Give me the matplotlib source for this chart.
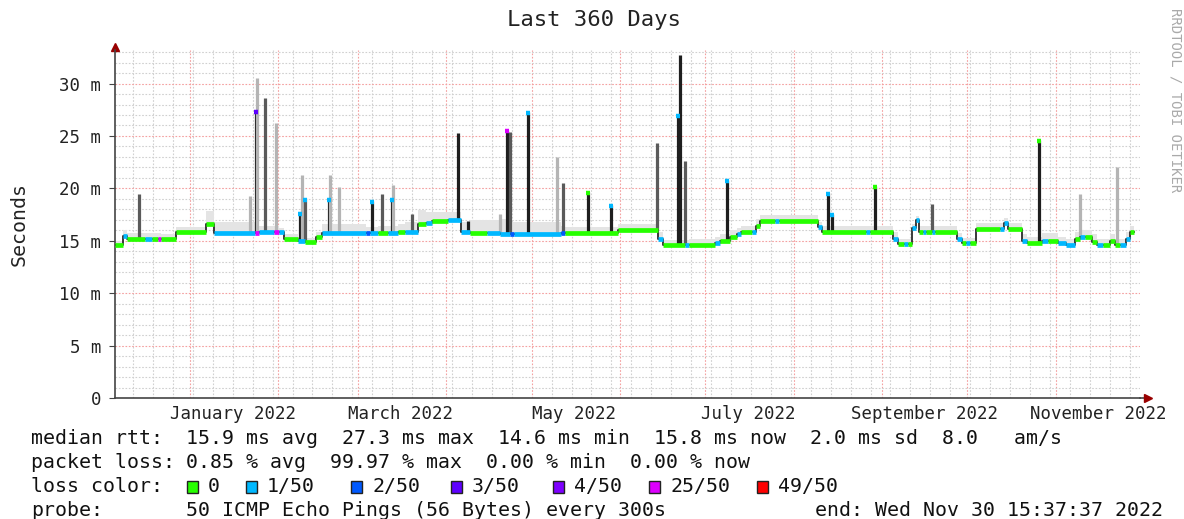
import datetime as dt
import numpy as np
import matplotlib
matplotlib.use('Agg')
import matplotlib.pyplot as plt
import matplotlib.dates as mdates
from matplotlib.patches import Rectangle

end_time = dt.datetime(2022, 11, 30, 15, 37, 37)
start_time = end_time - dt.timedelta(days=360)

# median rtt as steps: day offset from start, rtt in ms, loss colour index, top of smoke in ms
med_day = [0.0, 2.8, 4.2, 10.5, 13.0, 15.1, 16.2, 21.4, 32.0, 34.8, 49.2, 50.6, 55.8, 57.6,
           59.4, 64.3, 66.7, 70.6, 72.7, 88.2, 89.6, 92.4, 95.9, 99.4, 101.9, 106.4, 109.2,
           111.3, 117.0, 121.5, 124.7, 130.7, 135.2, 138.7, 140.1, 156.7, 158.1, 176.7,
           190.7, 192.5, 200.2, 201.6, 210.7, 212.5, 216.0, 218.5, 219.9, 223.7, 225.2,
           226.6, 231.8, 233.2, 246.9, 248.3, 263.8, 265.2, 273.3, 275.0, 277.1, 278.5,
           279.9, 281.3, 282.4, 283.8, 284.9, 287.0, 288.0, 295.7, 297.5, 298.9, 300.3,
           302.4, 310.9, 312.3, 313.7, 318.6, 320.3, 325.6, 327.7, 331.2, 334.0, 337.2,
           338.9, 340.7, 343.2, 344.9, 347.0, 349.5, 351.3, 353.0, 355.1, 356.5, 357.9]
med_ms = [14.6, 15.5, 15.2, 15.2, 15.2, 15.2, 15.2, 15.8, 16.6, 15.7, 15.7, 15.8, 15.8, 15.8,
          15.2, 15.0, 14.9, 15.4, 15.7, 15.7, 15.7, 15.7, 15.7, 15.8, 15.8, 16.6, 16.7,
          16.9, 17.0, 15.8, 15.7, 15.7, 15.6, 15.6, 15.6, 15.7, 15.7, 16.0,
          15.2, 14.6, 14.6, 14.6, 14.8, 15.0, 15.4, 15.6, 15.8, 15.8, 16.4,
          16.9, 16.9, 16.9, 16.3, 15.8, 15.8, 15.8, 15.2, 14.7, 14.7, 14.7,
          16.2, 17.0, 15.8, 15.8, 15.8, 15.8, 15.8, 15.2, 14.8, 14.8, 14.8,
          16.1, 16.1, 16.7, 16.1, 15.0, 14.8, 15.0, 15.0, 14.8, 14.6, 15.2,
          15.4, 15.4, 14.9, 14.6, 14.6, 15.0, 14.6, 14.6, 15.2, 15.8, 15.8]
med_loss = [0, 1, 0, 1, 0, 5, 0, 0, 0, 1, 5, 1, 5, 1,
            0, 1, 0, 0, 1, 2, 1, 0, 1, 0, 1, 0, 1,
            0, 1, 1, 0, 1, 1, 2, 1, 2, 0, 0,
            1, 0, 1, 0, 1, 0, 0, 1, 0, 1, 0,
            0, 1, 0, 1, 0, 1, 0, 1, 0, 1, 0,
            1, 1, 0, 1, 0, 1, 0, 1, 0, 1, 0,
            0, 1, 1, 0, 1, 0, 1, 0, 1, 1, 0,
            1, 0, 0, 1, 0, 0, 0, 1, 1, 0, 0]
smoke_ms = [15.0, 16.0, 15.7, 15.7, 15.7, 15.7, 15.6, 16.3, 17.8, 16.8, 16.6, 16.4, 16.4, 16.2,
            15.6, 15.4, 15.3, 15.8, 16.6, 16.3, 16.3, 16.4, 16.4, 16.6, 16.8, 17.9, 17.7,
            17.7, 17.7, 16.8, 17.0, 17.0, 17.1, 16.8, 16.8, 16.4, 16.3, 16.6,
            15.8, 15.1, 15.1, 15.2, 15.4, 15.6, 16.0, 16.2, 16.4, 16.4, 17.1,
            17.5, 17.5, 17.5, 16.8, 16.4, 16.4, 16.4, 15.8, 15.2, 15.2, 15.2,
            16.6, 17.4, 16.4, 16.4, 16.4, 16.4, 16.4, 15.7, 15.3, 15.3, 15.3,
            16.7, 16.7, 17.2, 16.7, 15.6, 15.4, 15.7, 15.7, 15.4, 15.2, 15.8,
            16.0, 16.0, 15.6, 15.2, 15.2, 15.6, 15.2, 15.2, 15.8, 16.4, 16.4]

# smoke spikes: day offset, top in ms, shade (0 dark, 1 mid, 2 light)
spike_day = [8.4, 47.4, 49.5, 49.9, 52.7, 56.6, 65.0, 65.7, 66.7, 75.2, 75.5, 78.7, 90.3,
             93.8, 97.3, 97.6, 104.3, 120.5, 124.0, 135.2, 137.7, 138.7, 145.1, 155.3,
             157.4, 166.1, 174.2, 190.4, 197.8, 198.5, 200.2, 215.0, 250.4, 251.8, 266.9,
             287.0, 324.5, 338.9, 352.0]
spike_top = [19.5, 19.3, 27.5, 30.5, 28.6, 26.2, 17.7, 21.3, 19.1, 19.0, 21.3, 20.1, 18.8,
             19.5, 19.0, 20.3, 17.6, 25.3, 16.9, 17.6, 25.6, 25.4, 27.3, 23.0,
             20.5, 19.7, 18.4, 24.3, 26.9, 32.7, 22.6, 20.8, 19.6, 17.6, 20.2,
             18.5, 24.6, 19.5, 22.0]
spike_shade = [1, 2, 0, 2, 1, 2, 0, 2, 1, 0, 2, 2, 0,
               1, 0, 2, 1, 0, 0, 2, 0, 1, 0, 2,
               1, 0, 0, 1, 0, 0, 1, 0, 0, 0, 0,
               1, 0, 2, 2]

# high median values at the spikes: day offset, ms, loss colour index
tip_day = [49.5, 65.0, 66.7, 75.2, 90.3, 97.3, 137.7, 145.1, 166.1, 174.2, 197.8, 215.0,
           250.4, 251.8, 266.9, 324.5]
tip_ms = [27.3, 17.6, 18.9, 18.9, 18.7, 18.9, 25.5, 27.2, 19.6, 18.3, 26.9, 20.7,
          19.5, 17.5, 20.1, 24.5]
tip_loss = [3, 1, 1, 1, 1, 1, 5, 1, 0, 1, 1, 1, 1, 1, 0, 0]

loss_labels = ['0', '1/50', '2/50', '3/50', '4/50', '25/50', '49/50']
loss_colors = ['#26ff00', '#00b8ff', '#0059ff', '#5e00ff', '#7e00ff', '#dd00ff', '#ff0000']
shade_colors = ['#1e1e1e', '#5a5a5a', '#b4b4b4']

W, H = 1184, 519
mono = 'DejaVu Sans Mono'
plt.rcParams['font.family'] = mono


def to_num(days):
    return mdates.date2num([start_time + dt.timedelta(days=float(d)) for d in days])


fig = plt.figure(figsize=(W / 100, H / 100), dpi=100)
ax = fig.add_axes([115 / W, 121 / H, 1025 / W, 348 / H])

t = to_num(med_day)
ax.fill_between(t, med_ms, smoke_ms, step='post', color='#e4e4e4', lw=0, zorder=2)

# spikes start from the median at that time
idx = np.searchsorted(med_day, spike_day, side='right') - 1
base = np.array(med_ms)[idx]
ax.vlines(to_num(spike_day), base, spike_top,
          colors=[shade_colors[s] for s in spike_shade], lw=2.3, zorder=3)

ax.step(t, med_ms, where='post', color='#2a2a2a', lw=1.3, zorder=4)
ax.hlines(med_ms[:-1], t[:-1], t[1:], colors=[loss_colors[c] for c in med_loss[:-1]],
          lw=3.4, zorder=5)

tt = to_num(tip_day)
ax.hlines(tip_ms, tt - 0.6, tt + 0.6, colors=[loss_colors[c] for c in tip_loss], lw=3.2, zorder=6)

ax.set_xlim(mdates.date2num(start_time), mdates.date2num(end_time))
ax.set_ylim(0, 33.2)

# grid: weekly / monthly verticals, 1 ms / 5 ms horizontals
red_grid = dict(color='#f4a0a0', lw=0.8, ls=(0, (1.5, 1.5)), zorder=1)
grey_grid = dict(color='#d0d0d0', lw=0.8, ls=(0, (1.5, 1.5)), zorder=1)
d = start_time.date() + dt.timedelta(days=1)
while d < end_time.date():
    x = mdates.date2num(dt.datetime(d.year, d.month, d.day))
    if d.day == 1:
        ax.axvline(x, **red_grid)
    elif d.weekday() == 6:
        ax.axvline(x, **grey_grid)
    d += dt.timedelta(days=1)
for y in range(1, 34):
    ax.axhline(y, **(red_grid if y % 5 == 0 else grey_grid))

yticks = [0, 5, 10, 15, 20, 25, 30]
ax.set_yticks(yticks)
ax.set_yticklabels(['0'] + ['%d m' % v for v in yticks[1:]], fontsize=12.5, color='#222222')

label_months = [(2022, 1), (2022, 3), (2022, 5), (2022, 7), (2022, 9), (2022, 11)]
ax.set_xticks(mdates.date2num([dt.datetime(y, m, 16) for y, m in label_months]))
ax.set_xticklabels([dt.date(y, m, 1).strftime('%B %Y') for y, m in label_months],
                   fontsize=12.5, color='#222222')
ax.tick_params(axis='x', length=0, pad=5)
ax.tick_params(axis='y', length=4, color='#444444', pad=6)

for s in ['top', 'right']:
    ax.spines[s].set_visible(False)
for s in ['left', 'bottom']:
    ax.spines[s].set_color('#444444')
    ax.spines[s].set_linewidth(1.2)
ax.plot([1, 1.007], [0, 0], transform=ax.transAxes, color='#444444', lw=1.2, clip_on=False)
ax.plot([1.008], [0], transform=ax.transAxes, marker='>', color='#990000', ms=6, clip_on=False)
ax.plot([0], [1.01], transform=ax.transAxes, marker='^', color='#990000', ms=6, clip_on=False)

ax.set_ylabel('Seconds', fontsize=14.3, color='#222222', labelpad=22)
fig.text(594 / W, 1 - 20 / H, 'Last 360 Days', ha='center', va='center', fontsize=16, color='#222222')
fig.text(1175 / W, 1 - 8 / H, 'RRDTOOL / TOBI OETIKER', rotation=270, ha='center', va='top',
         fontsize=10, color='#aaaaaa')


def put(x, y, s):
    fig.text(x / W, 1 - y / H, s, ha='left', va='center', fontsize=14.3, color='#111111')


put(31, 438, 'median rtt:')
put(186, 438, '15.9 ms avg  27.3 ms max  14.6 ms min  15.8 ms now  2.0 ms sd  8.0   am/s')
put(31, 463, 'packet loss:')
put(186, 463, '0.85 % avg  99.97 % max  0.00 % min  0.00 % now')
put(31, 487, 'loss color:')
box_x = [187, 246, 351, 451, 553, 649, 757]
for bx, lab, col in zip(box_x, loss_labels, loss_colors):
    fig.patches.append(Rectangle((bx / W, 1 - 493 / H), 11 / W, 12 / H, transform=fig.transFigure,
                                 facecolor=col, edgecolor='#222222', lw=1))
    put(bx + 21, 487, lab)
put(31, 511, 'probe:')
put(186, 511, '50 ICMP Echo Pings (56 Bytes) every 300s')
put(815, 511, 'end: Wed Nov 30 15:37:37 2022')

fig.savefig('out.png', dpi=100)
